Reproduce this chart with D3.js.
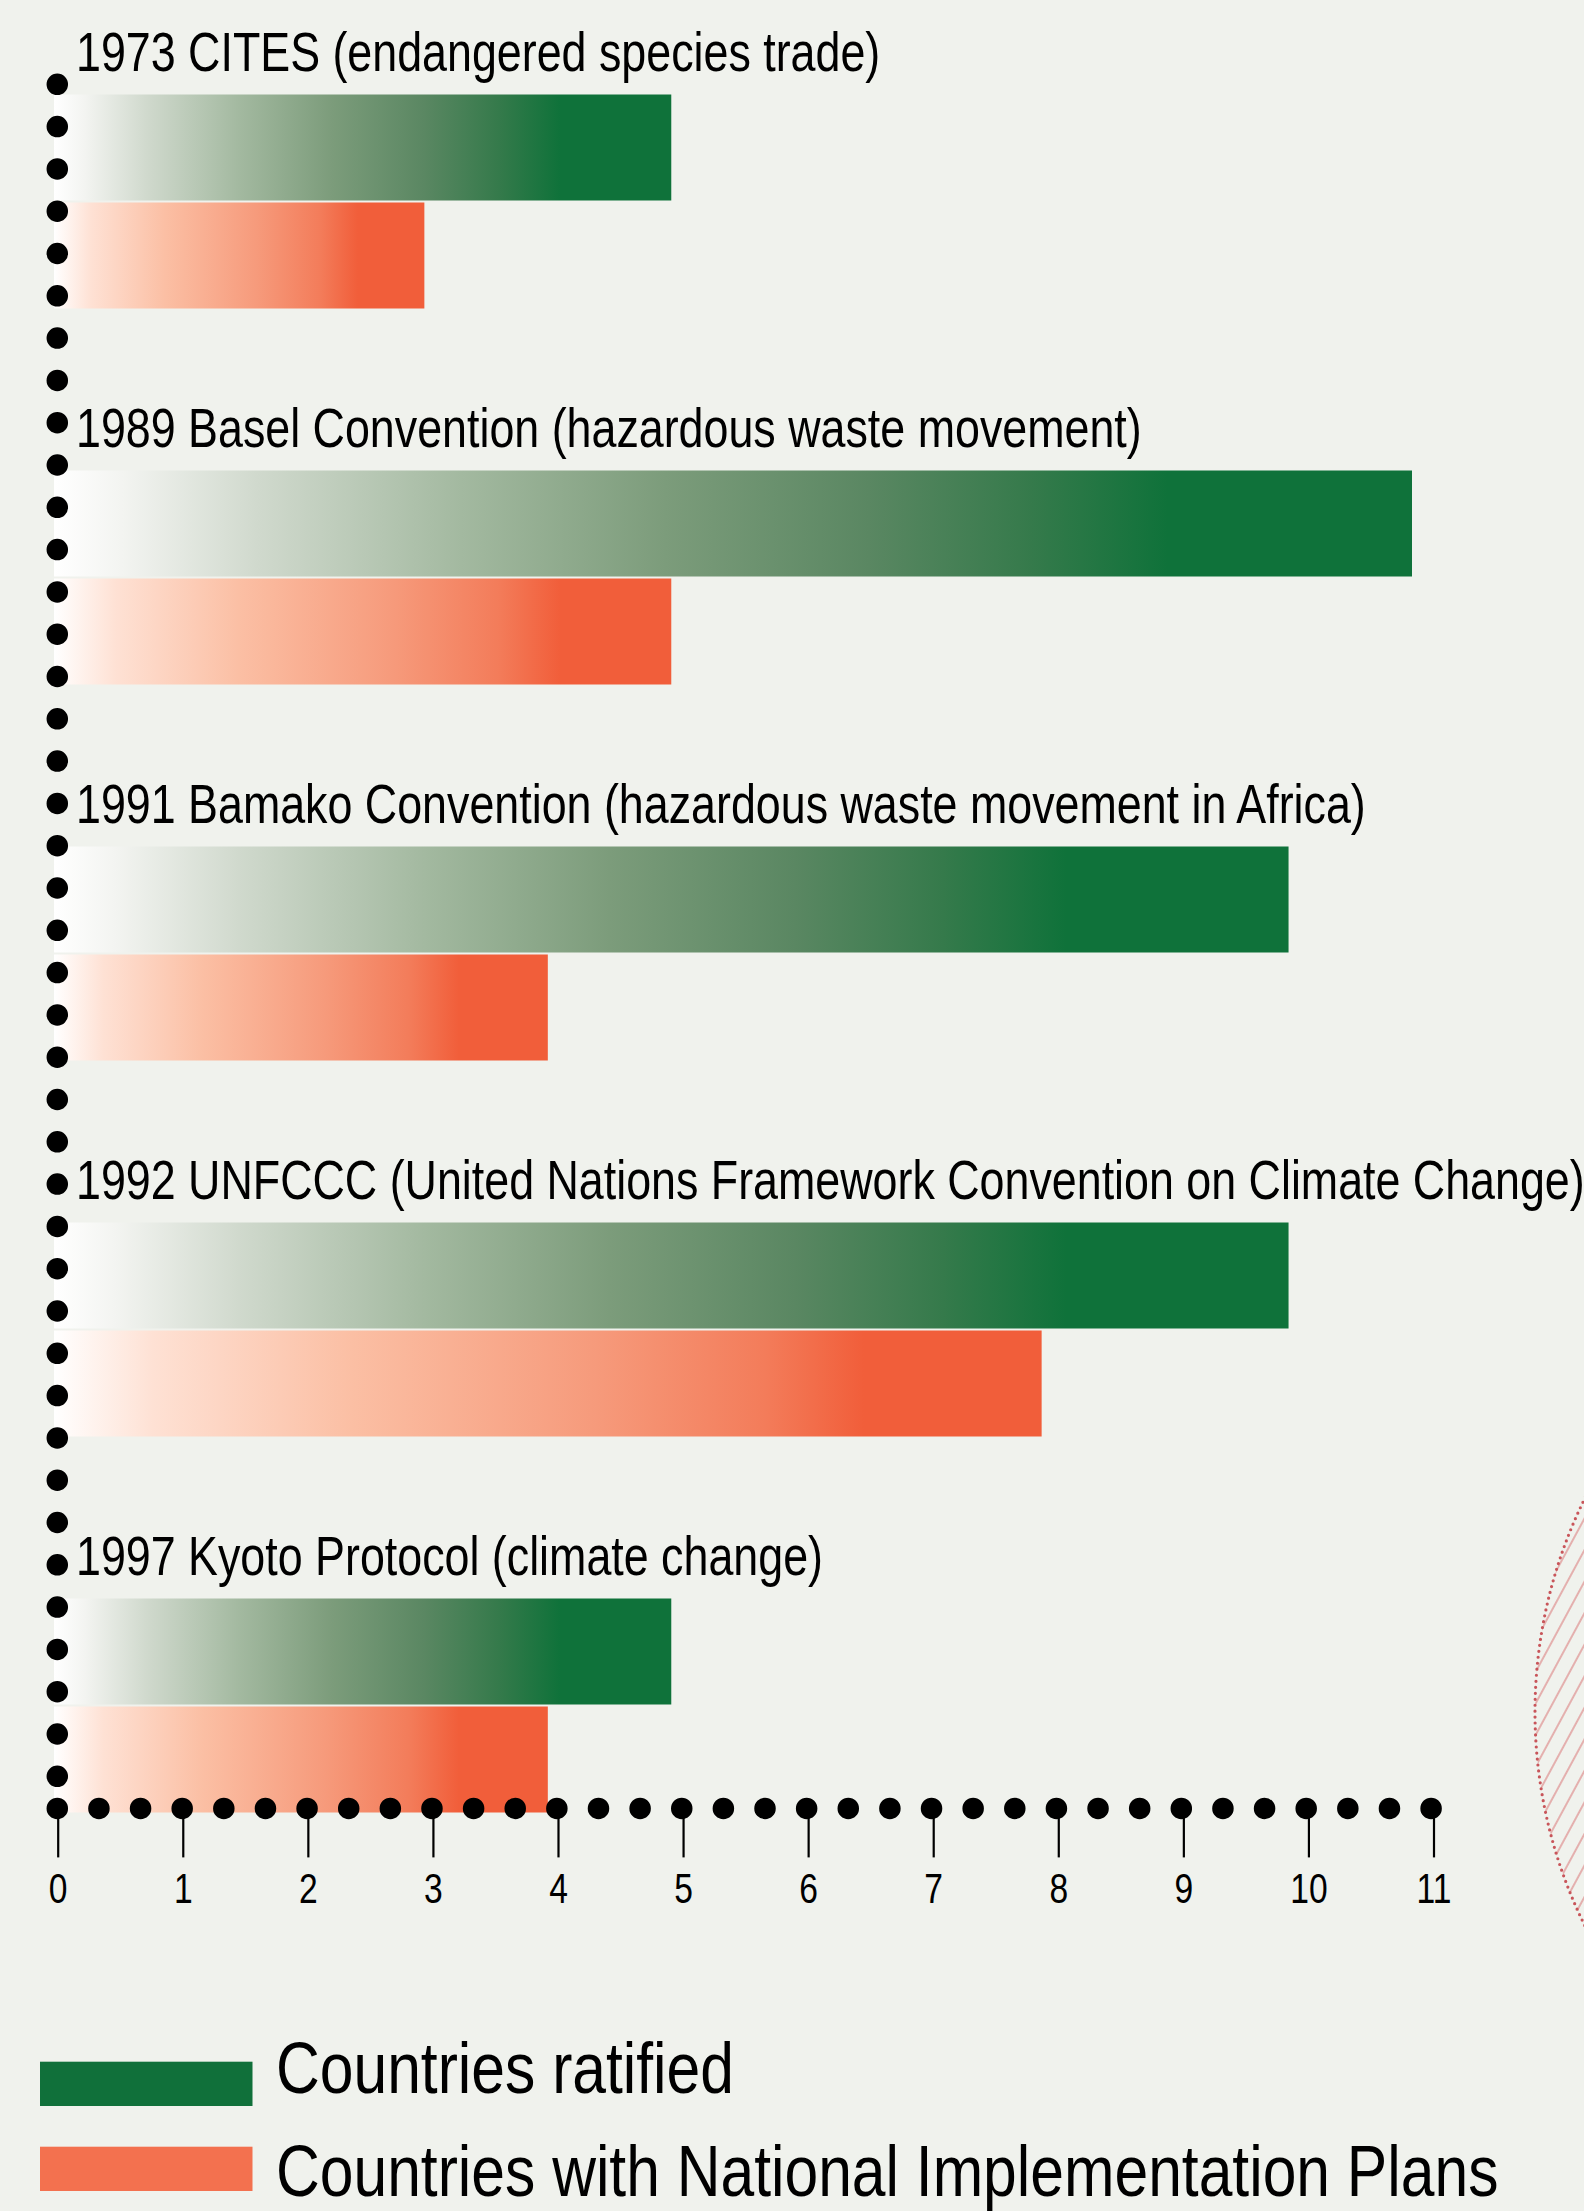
<!DOCTYPE html>
<html>
<head>
<meta charset="utf-8">
<script src="https://cdn.jsdelivr.net/npm/d3@7"></script>
<style>
    body { margin: 0; background: #f0f2ed; }
    svg { display: block; }
    text { font-family: "Liberation Sans Narrow", "Arial Narrow", "Liberation Sans", Arial, sans-serif; fill: #000; }
</style>
</head>
<body>
<div id="svgContainer"></div>
<script>
const treaties = [
    "1973 CITES (endangered species trade)",
    "1989 Basel Convention (hazardous waste movement)",
    "1991 Bamako Convention (hazardous waste movement in Africa)",
    "1992 UNFCCC (United Nations Framework Convention on Climate Change)",
    "1997 Kyoto Protocol (climate change)"
];
const ratified = [5, 11, 10, 10, 5];
const withPlans = [3, 5, 4, 8, 4];
const seriesKeys = ["ratified", "plans"];
const seriesNames = ["Countries ratified", "Countries with National Implementation Plans"];
const xTicks = [0, 1, 2, 3, 4, 5, 6, 7, 8, 9, 10, 11];

const width = 1584, height = 2211;
// no narrow font installed, so squeeze the regular one
const narrow = 0.8;

let svg = d3.select("#svgContainer").append("svg")
    .attr("width", width)
    .attr("height", height);

let defs = svg.append("defs");

// bar gradients
let greenStops = [[0, "#ffffff"], [0.05, "#f3f4f1"], [0.15, "#d0d9cd"], [0.3, "#a3b9a0"],
    [0.45, "#7c9c7b"], [0.6, "#5a8762"], [0.72, "#357a4b"], [0.82, "#0f723a"], [1, "#0f723a"]];
let orangeStops = [[0, "#ffffff"], [0.1, "#fee1d4"], [0.3, "#fbbfa4"], [0.55, "#f69a7b"],
    [0.72, "#f37c5a"], [0.82, "#f15e3a"], [1, "#f15e3a"]];

[["grad-ratified", greenStops], ["grad-plans", orangeStops]].forEach(([id, stops]) => {
    defs.append("linearGradient")
        .attr("id", id)
        .attr("x1", "0%").attr("x2", "100%")
        .attr("y1", "0%").attr("y2", "0%")
        .selectAll("stop")
        .data(stops)
        .join("stop")
        .attr("offset", d => d[0])
        .attr("stop-color", d => d[1]);
});

// hatch for the circle on the right
defs.append("pattern")
    .attr("id", "hatch")
    .attr("patternUnits", "userSpaceOnUse")
    .attr("width", 15).attr("height", 15)
    .attr("patternTransform", "rotate(28.4)")
    .append("line")
    .attr("x1", 1).attr("x2", 1)
    .attr("y1", 0).attr("y2", 15)
    .style("stroke", "#e09a9a")
    .style("stroke-width", 1.5);

svg.append("circle")
    .attr("cx", 2018).attr("cy", 1712).attr("r", 483)
    .attr("fill", "url(#hatch)")
    .style("stroke", "#c8555a")
    .style("stroke-width", 3.2)
    .style("stroke-dasharray", "0 6")
    .style("stroke-linecap", "round");

// scales
let xAxisScale = d3.scaleLinear().domain([0, 11]).range([57.7, 1433.5]);
let xBar = d3.scaleLinear().domain([0, 11]).range([54, 1412]);
let yGroup = d3.scaleBand().domain(treaties).range([94.5, 94.5 + 5 * 376]);
let ySeries = d3.scaleBand().domain(seriesKeys).range([0, 214]).paddingInner(0.0185);

let rows = treaties.map((name, i) => ({
    name: name,
    values: [{key: "ratified", value: ratified[i]}, {key: "plans", value: withPlans[i]}]
}));

let groups = svg.selectAll("g.group")
    .data(rows)
    .join("g")
    .attr("class", "group")
    .attr("transform", d => `translate(0,${yGroup(d.name)})`);

groups.selectAll("rect")
    .data(d => d.values)
    .join("rect")
    .attr("x", xBar(0))
    .attr("y", d => ySeries(d.key))
    .attr("width", d => xBar(d.value) - xBar(0))
    .attr("height", ySeries.bandwidth())
    .attr("fill", d => `url(#grad-${d.key})`);

groups.append("text")
    .attr("transform", `translate(76,-24) scale(${narrow},1)`)
    .style("font-size", "56px")
    .text(d => d.name);

// dotted axes
svg.append("line")
    .attr("x1", 57.3).attr("x2", 57.3)
    .attr("y1", 84.3).attr("y2", 1777)
    .style("stroke", "#000")
    .style("stroke-width", 21.5)
    .style("stroke-linecap", "round")
    .style("stroke-dasharray", "0 42.3");

svg.append("line")
    .attr("x1", 57.3).attr("x2", 1432)
    .attr("y1", 1808.4).attr("y2", 1808.4)
    .style("stroke", "#000")
    .style("stroke-width", 21.5)
    .style("stroke-linecap", "round")
    .style("stroke-dasharray", "0 41.63");

let axis = svg.append("g")
    .attr("transform", "translate(0,1808.4)")
    .call(d3.axisBottom(xAxisScale).tickValues(xTicks).tickSize(49).tickPadding(16).tickFormat(d3.format("d")));

axis.select(".domain").remove();
axis.selectAll(".tick line").style("stroke", "#000").style("stroke-width", 2.2);
axis.selectAll(".tick text")
    .style("font-family", "\"Liberation Sans Narrow\", \"Arial Narrow\", \"Liberation Sans\", sans-serif")
    .style("font-size", "42px")
    .attr("transform", `scale(${narrow},1)`)
    .attr("fill", "#000");

// legend
let legendColors = ["#10703a", "#f3714f"];
let legend = svg.selectAll("g.legend")
    .data(seriesNames)
    .join("g")
    .attr("class", "legend")
    .attr("transform", (d, i) => `translate(40,${2061.7 + i * 85})`);

legend.append("rect")
    .attr("width", 212.5)
    .attr("height", 44.3)
    .attr("fill", (d, i) => legendColors[i]);

legend.append("text")
    .attr("transform", (d, i) => `translate(236,${i === 0 ? 31.6 : 49.3}) scale(0.83,1)`)
    .style("font-size", "73px")
    .text(d => d);
</script>
</body>
</html>
